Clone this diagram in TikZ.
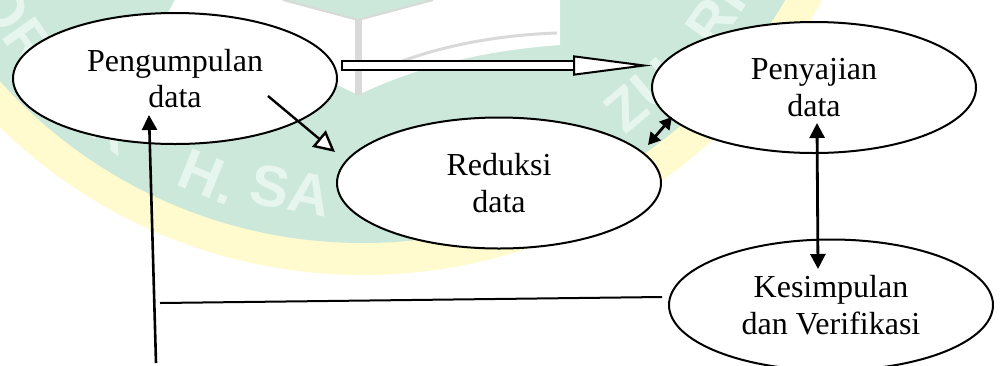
\documentclass[tikz,border=0pt]{standalone}
\usepackage{fontspec}
\setmainfont{Liberation Serif}
\setsansfont{Liberation Sans}
\usetikzlibrary{arrows.meta,shapes.geometric}

\definecolor{wmgreen}{HTML}{CBE8DA}
\definecolor{wmyellow}{HTML}{FFFBCF}
\definecolor{wmgrey}{HTML}{D9D9D9}
\definecolor{wmtext}{HTML}{E6F6EE}

\tikzset{
    bubble/.style={draw,ellipse,fill=white,line width=1pt,inner sep=0pt,align=center,
        minimum width=162pt,minimum height=65.5pt,font=\fontsize{16}{18.3}\selectfont},
    wmletter/.style={text=wmtext,inner sep=0pt,font=\sffamily\bfseries\fontsize{29}{29}\selectfont},
    solidhead/.style={line width=1.3pt,-{Triangle[length=7.5pt,width=7.5pt]}},
    smallboth/.style={line width=1.4pt,{Triangle[length=6pt,width=6.5pt]}-{Triangle[length=6pt,width=6.5pt]}},
    bigboth/.style={line width=1.4pt,{Triangle[length=7.5pt,width=7.5pt]}-{Triangle[length=7.5pt,width=7.5pt]}},
    openhead/.style={line width=1.2pt,-{Triangle[open,length=10.5pt,width=10.5pt,fill=white]}},
    blockhead/.style={line width=1pt,double=white,double distance=3.6pt,
        {Bar[width=5.6pt,line width=1pt]}-{Triangle[open,length=39.5pt,width=10pt,fill=white,line width=1pt]}}
}

\begin{document}
\begin{tikzpicture}[x=0.5pt,y=-0.5pt]
    \useasboundingbox (0,0) rectangle (1001,365);
    \clip (0,0) rectangle (1001,365);

    \fill[white] (0,0) rectangle (1001,365);
    \fill[wmyellow] (363,-245) circle [radius=520];
    \fill[wmgreen] (363,-245) circle [radius=488];
    \fill[white] (358,20) -- (283,0) -- (175,0) -- (150,45) .. controls (230,50) and (300,65) .. (358,95)
        .. controls (420,65) and (490,50) .. (560,45) -- (560,0) -- (433,0) -- cycle;
    \draw[wmgrey,line width=1pt] (283,0) -- (358,20) -- (433,0);
    \draw[wmgrey,line width=3.5pt] (358,20) -- (358,95);
    \draw[wmgrey,line width=1.5pt] (387,67) .. controls (440,45) and (500,35) .. (557,33);

    \foreach \ang/\rad/\letter/\idx in {-55/435/OR/1,-36/438/K/2,-22/435/H./3,-11/424/SA/4,40/420/ZU/5,55/420/RI/6}
        \node[wmletter,rotate=\ang] (mark\idx) at ([shift={(372,-226)}] 90-\ang:\rad) {\letter};

    \node[bubble] (kumpul) at (175,78.5) {Pengumpulan\\data};
    \node[bubble] (saji) at (814,87.5) {Penyajian\\data};
    \node[bubble] (reduksi) at (499,183) {Reduksi\\data};
    \node[bubble] (simpul) at (831,305) {Kesimpulan\\dan Verifikasi};

    \coordinate (blockfrom) at (341,65.5);
    \coordinate (blockto) at (652,65.5);
    \coordinate (openfrom) at (268,96);
    \coordinate (opento) at (335,152);
    \coordinate (smallfrom) at (672,117);
    \coordinate (smallto) at (648,145);
    \coordinate (bigfrom) at (817,123);
    \coordinate (bigto) at (818,269);
    \coordinate (upfrom) at (156,363);
    \coordinate (upto) at (149,115);
    \coordinate (linefrom) at (662,297);
    \coordinate (lineto) at (160,303);

    \draw[blockhead] (blockfrom) -- (blockto);
    \draw[openhead] (openfrom) -- (opento);
    \draw[smallboth] (smallfrom) -- (smallto);
    \draw[bigboth] (bigfrom) -- (bigto);
    \draw[solidhead] (upfrom) -- (upto);
    \draw[line width=1pt] (linefrom) -- (lineto);
\end{tikzpicture}
\end{document}
